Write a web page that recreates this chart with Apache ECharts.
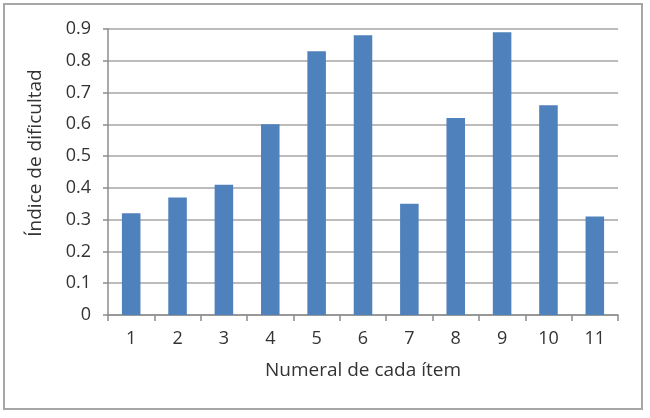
<!DOCTYPE html>
<html>
<head>
<meta charset="utf-8">
<script src="https://cdn.jsdelivr.net/npm/echarts@6/dist/echarts.min.js"></script>
<style>
html,body{margin:0;padding:0;background:#fff;}
#chart{width:650px;height:418px;}
</style>
</head>
<body>
<div id="chart"></div>
<script>
var categories = ['1','2','3','4','5','6','7','8','9','10','11'];
var values = [0.32, 0.37, 0.41, 0.60, 0.83, 0.88, 0.35, 0.62, 0.89, 0.66, 0.31];
var xTitle = 'Numeral de cada ítem';
var yTitle = 'Índice de dificultad';

var chart = echarts.init(document.getElementById('chart'));
var font = '"Open Sans", sans-serif';
var txt = '#333333';
chart.setOption({
  animation: false,
  graphic: [{
    type: 'rect',
    shape: {x: 4, y: 4, width: 638, height: 405},
    style: {fill: 'none', stroke: '#a6a6a6', lineWidth: 2},
    silent: true
  }],
  grid: {left: 108, right: 32, top: 29, bottom: 103},
  xAxis: {
    type: 'category',
    data: categories,
    name: xTitle,
    nameLocation: 'middle',
    nameGap: 46,
    nameTextStyle: {fontFamily: font, fontSize: 19, color: txt},
    axisLine: {lineStyle: {color: '#8c8c8c', width: 1.5}},
    axisTick: {show: true, length: 6, alignWithLabel: false, lineStyle: {color: '#8c8c8c', width: 1.5}},
    axisLabel: {fontFamily: font, fontSize: 18, color: txt, margin: 15}
  },
  yAxis: {
    type: 'value',
    min: 0,
    max: 0.9,
    interval: 0.1,
    name: yTitle,
    nameLocation: 'middle',
    nameGap: 63,
    nameTextStyle: {fontFamily: font, fontSize: 19, color: txt, padding: [0, 0, 0, 38]},
    axisLine: {show: true, lineStyle: {color: '#8c8c8c', width: 1.5}},
    axisTick: {show: true, length: 5, lineStyle: {color: '#8c8c8c', width: 1.5}},
    axisLabel: {fontFamily: font, fontSize: 18, color: txt, margin: 17,
      formatter: function (v) { return v === 0 ? '0' : v.toFixed(1); }},
    splitLine: {lineStyle: {color: '#a6a6a6', width: 1.5}}
  },
  series: [{
    type: 'bar',
    data: values,
    barWidth: '40%',
    itemStyle: {color: '#4f81bd'}
  }]
});
</script>
</body>
</html>
